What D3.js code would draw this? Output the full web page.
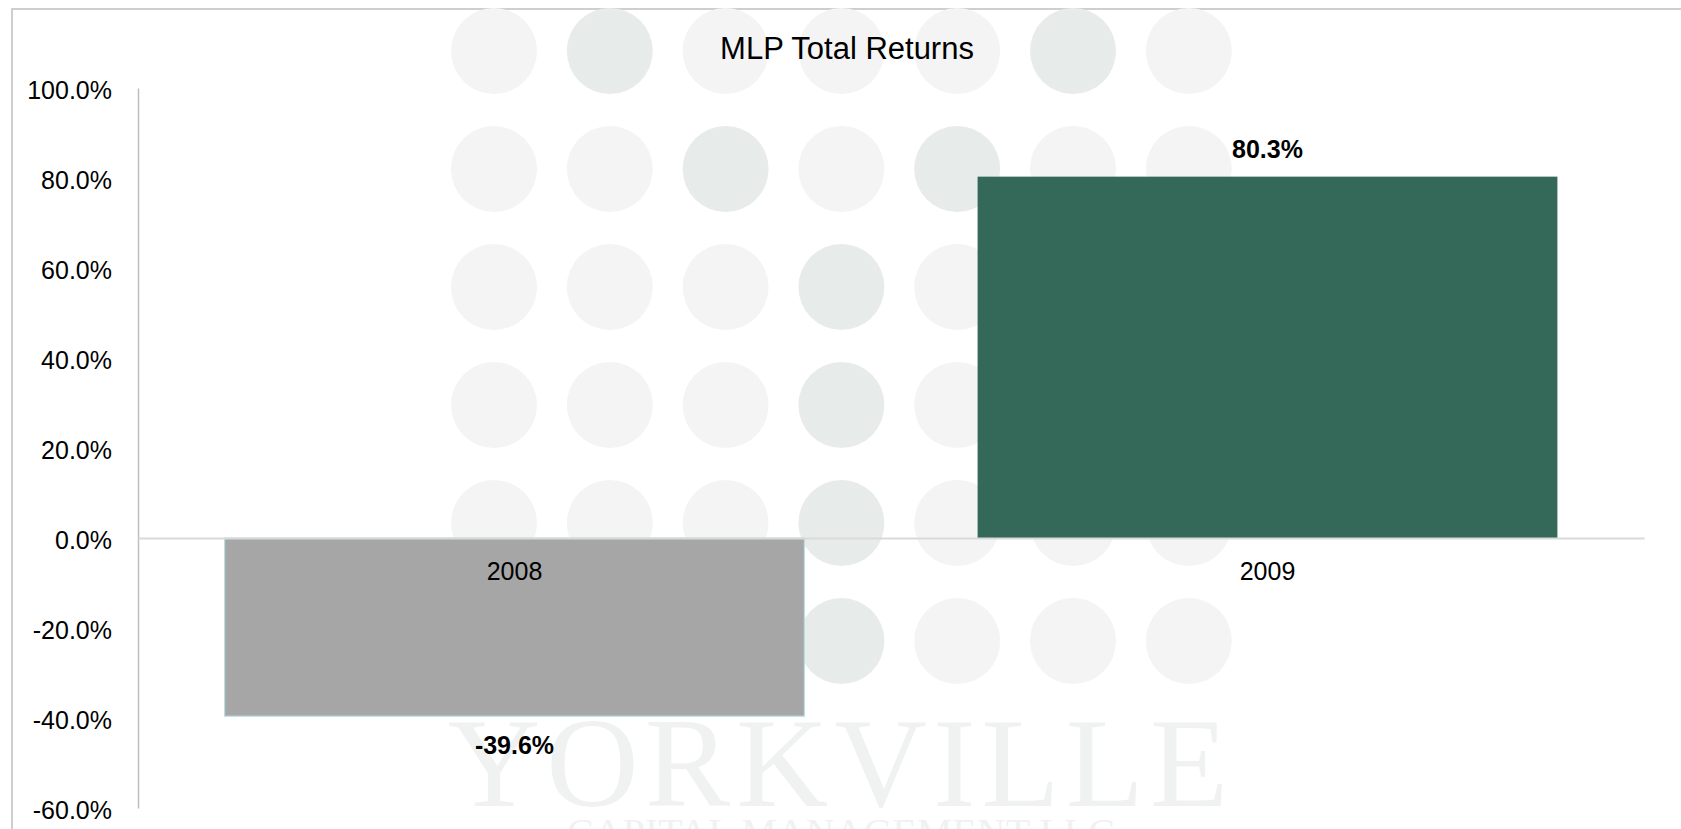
<!DOCTYPE html>
<html>
<head>
<meta charset="utf-8">
<script src="https://cdn.jsdelivr.net/npm/d3@7"></script>
<style>
  html, body { margin: 0; padding: 0; background: #ffffff; overflow: hidden; }
  svg { display: block; }
</style>
</head>
<body>
<svg id="chart" width="1681" height="829"></svg>
<script>
// Annual total returns (%)
const categories = ["2008", "2009"];
const returns = [-39.6, 80.3];
const barColors = ["#a6a6a6", "#346858"];
const barStrokes = ["#b9dde6", "none"];
const tickValues = [-60, -40, -20, 0, 20, 40, 60, 80, 100];
const tickLabels = ["-60.0%", "-40.0%", "-20.0%", "0.0%", "20.0%", "40.0%", "60.0%", "80.0%", "100.0%"];
const chartTitle = "MLP Total Returns";

// Background watermark: dot grid (1 = green-tinted dot) and company name
const dotTint = [
  [0, 1, 0, 0, 0, 1, 0],
  [0, 0, 1, 0, 1, 0, 0],
  [0, 0, 0, 1, 0, 0, 0],
  [0, 0, 0, 1, 0, 0, 0],
  [0, 0, 0, 1, 0, 0, 0],
  [0, 0, 0, 1, 0, 0, 0]
];
const markName = "YORKVILLE";
const markSub = "CAPITAL MANAGEMENT LLC";

const svg = d3.select("#chart");
const W = 1681, H = 829;
const plot = { left: 138, right: 1644, top: 88, bottom: 808 };

// Outer frame
svg.append("rect")
  .attr("x", 12).attr("y", 9)
  .attr("width", W + 20).attr("height", H + 20)
  .attr("fill", "#ffffff")
  .attr("stroke", "#c3c3c3")
  .attr("stroke-width", 1.6);

// Watermark
const wm = svg.append("g").attr("class", "watermark");
const dotX0 = 494, dotDX = 115.8, dotY0 = 51, dotDY = 118, dotR = 43;
dotTint.forEach((row, j) => {
  row.forEach((t, i) => {
    wm.append("circle")
      .attr("cx", dotX0 + i * dotDX)
      .attr("cy", dotY0 + j * dotDY)
      .attr("r", dotR)
      .attr("fill", t ? "#e7ecea" : "#f4f4f5");
  });
});
wm.append("text")
  .attr("x", 841).attr("y", 806)
  .attr("text-anchor", "middle")
  .style("font-family", "'Liberation Serif', 'DejaVu Serif', serif")
  .style("font-size", "128px")
  .style("letter-spacing", "6px")
  .attr("fill", "#f0f2f1")
  .text(markName);
wm.append("text")
  .attr("x", 841).attr("y", 846)
  .attr("text-anchor", "middle")
  .style("font-family", "'Liberation Serif', 'DejaVu Serif', serif")
  .style("font-size", "40px")
  .attr("fill", "#f0f2f1")
  .text(markSub);

// Scales
const x = d3.scaleBand()
  .domain(categories)
  .range([plot.left, plot.right])
  .paddingInner(0.23)
  .paddingOuter(0.115);

const y = d3.scaleLinear()
  .domain([tickValues[0], tickValues[tickValues.length - 1]])
  .range([plot.bottom, plot.top]);

const font = "'Liberation Sans', Arial, sans-serif";

// Title
svg.append("text")
  .attr("x", 847).attr("y", 59)
  .attr("text-anchor", "middle")
  .style("font-family", font)
  .style("font-size", "31px")
  .attr("fill", "#000")
  .text(chartTitle);

// Y axis
const yAxis = d3.axisLeft(y)
  .tickValues(tickValues)
  .tickFormat((d, i) => tickLabels[i])
  .tickSize(0)
  .tickPadding(26);

const gy = svg.append("g")
  .attr("transform", `translate(${plot.left},0)`)
  .call(yAxis);
gy.select(".domain").attr("stroke", "#bfbfbf").attr("stroke-width", 1.5);
gy.selectAll("text")
  .style("font-family", font)
  .style("font-size", "25px")
  .attr("fill", "#000")
  .attr("dy", "0.4em");

// Bars
const data = categories.map((c, i) => ({ c, v: returns[i], i }));
svg.append("g").selectAll("rect")
  .data(data)
  .join("rect")
  .attr("x", d => x(d.c))
  .attr("width", x.bandwidth())
  .attr("y", d => y(Math.max(0, d.v)))
  .attr("height", d => Math.abs(y(d.v) - y(0)))
  .attr("fill", d => barColors[d.i])
  .attr("stroke", d => barStrokes[d.i])
  .attr("stroke-width", 1.2);

// Zero line with category labels
const xAxis = d3.axisBottom(x).tickSize(0).tickPadding(24);
const gx = svg.append("g")
  .attr("transform", `translate(0,${y(0)})`)
  .call(xAxis);
gx.select(".domain").attr("stroke", "#d9d9d9").attr("stroke-width", 2);
gx.selectAll("text")
  .style("font-family", font)
  .style("font-size", "25px")
  .attr("fill", "#000");

// Value labels
svg.append("g").selectAll("text")
  .data(data)
  .join("text")
  .attr("x", d => x(d.c) + x.bandwidth() / 2)
  .attr("y", d => d.v >= 0 ? y(d.v) - 19 : y(d.v) + 38)
  .attr("text-anchor", "middle")
  .style("font-family", font)
  .style("font-size", "25px")
  .style("font-weight", "bold")
  .attr("fill", "#000")
  .text(d => d.v.toFixed(1) + "%");
</script>
</body>
</html>
